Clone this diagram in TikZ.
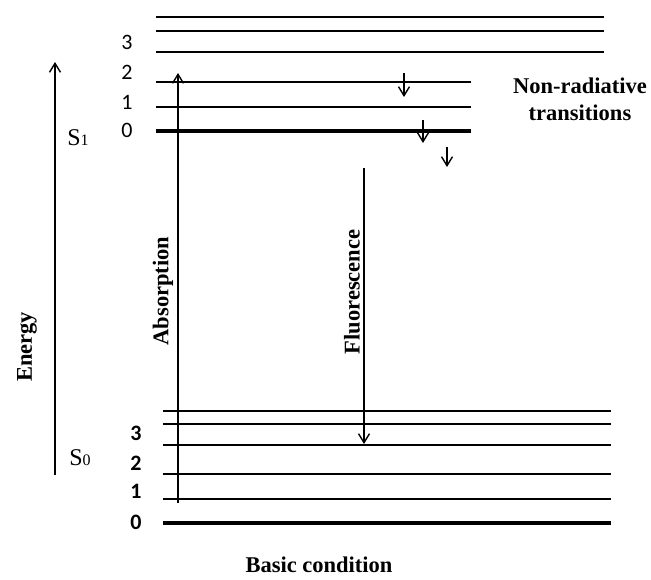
\documentclass[tikz,border=0pt]{standalone}
\usepackage{fontspec}
\setmainfont{Liberation Serif}
\newfontfamily\digitfont{Carlito}
\usetikzlibrary{arrows.meta}
\tikzset{
  lvl/.style={line width=1.7pt},
  lvlthick/.style={line width=3.8pt},
  arr/.style={line width=1.6pt,-{Straight Barb[length=9pt,width=11pt,line width=1.4pt]}},
  big/.style={font=\fontsize{22.5}{26}\selectfont\bfseries,inner sep=0pt},
  dig/.style={font=\fontsize{22}{22}\selectfont\digitfont,inner sep=0pt},
  digb/.style={font=\fontsize{22}{22}\selectfont\digitfont\bfseries,inner sep=0pt},
  stlabel/.style={font=\fontsize{24}{24}\selectfont,inner sep=0pt}
}
\begin{document}
\begin{tikzpicture}[x=1pt,y=-1pt]
\useasboundingbox (0,0) rectangle (651,580);
% S1 levels
\draw[lvl] (156,17) -- (604,17);
\draw[lvl] (156,31) -- (604,31);
\draw[lvl] (156,52) -- (604,52);
\draw[lvl] (156,82) -- (471,82);
\draw[lvl] (156,107) -- (471,107);
\draw[lvlthick] (156,131) -- (471,131);
% S0 levels
\draw[lvl] (163,411) -- (611,411);
\draw[lvl] (163,424) -- (611,424);
\draw[lvl] (163,445) -- (611,445);
\draw[lvl] (163,474) -- (611,474);
\draw[lvl] (163,499) -- (611,499);
\draw[lvlthick] (163,523) -- (611,523);
% numbers
\node[dig] (n13) at (127,42) {3};
\node[dig] (n12) at (127,72) {2};
\node[dig] (n11) at (127,102) {1};
\node[dig] (n10) at (127,130) {0};
\node[digb] (n03) at (136,433) {3};
\node[digb] (n02) at (136,463) {2};
\node[digb] (n01) at (136,491) {1};
\node[digb] (n00) at (136,522) {0};
% state labels
\node[stlabel] (s1) at (78,138) {S\fontsize{16}{16}\selectfont 1};
\node[stlabel] (s0) at (80,458) {S\fontsize{16}{16}\selectfont 0};
% coordinates
\coordinate (eb) at (55,475);
\coordinate (et) at (55,62);
\coordinate (ab) at (178,503);
\coordinate (at2) at (178,73);
\coordinate (fb) at (364,168);
\coordinate (ft) at (364,444);
\coordinate (r1a) at (404,73);
\coordinate (r1b) at (404,97);
\coordinate (r2a) at (423,120);
\coordinate (r2b) at (423,143);
\coordinate (r3a) at (447,147);
\coordinate (r3b) at (447,167);
% arrows
\draw[arr] (eb) -- (et);
\draw[arr] (ab) -- (at2);
\draw[arr] (fb) -- (ft);
\draw[arr] (r1a) -- (r1b);
\draw[arr] (r2a) -- (r2b);
\draw[arr] (r3a) -- (r3b);
% texts
\node[big,rotate=90] (energy) at (27,347) {Energy};
\node[big,rotate=90] (abs) at (163,291) {Absorption};
\node[big,rotate=90] (fluo) at (352,292) {Fluorescence};
\node[big,align=center] (nr) at (580,99) {Non-radiative\\[1pt]transitions};
\node[big] (basic) at (319,565) {Basic condition};
\end{tikzpicture}
\end{document}
